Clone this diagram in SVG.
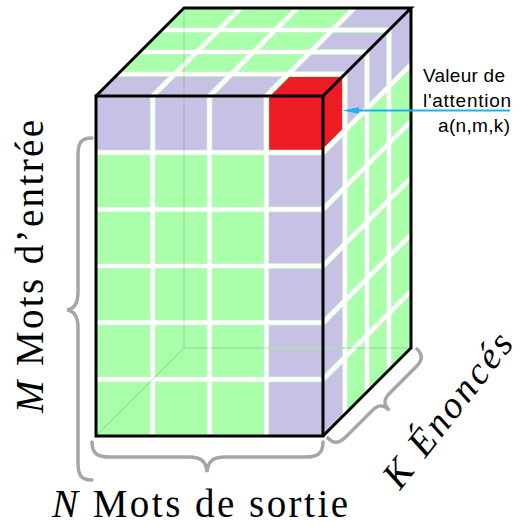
<svg xmlns="http://www.w3.org/2000/svg" width="524" height="527" viewBox="0 0 524 527">
<style>
.g{fill:#aaffaa}
.l{fill:#c7c1e6}
.r{fill:#ed1c24}
.wu{stroke:#c4f6c4;stroke-width:5.8;fill:none}
.w{stroke:#ffffff;stroke-width:4.2;fill:none}
.edge{stroke:#000;stroke-width:3;fill:none;stroke-linejoin:miter}
.hid{stroke:#4f7f4f;stroke-opacity:0.2;stroke-width:1.5;fill:none}
.brace{stroke:#a6a6a6;stroke-width:3.5;fill:none;stroke-linecap:round}
.serif{font-family:"Liberation Serif","Times New Roman",serif;fill:#000}
.sans{font-family:"Liberation Sans",Arial,sans-serif;font-size:19px;fill:#000}
</style>
<defs>
<path id="gridlines" d="M152.75,96V436M209.5,96V436M266.25,96V436M96,152.67H323M96,209.33H323M96,266H323M96,322.67H323M96,379.33H323M152.75,96L240.75,8M209.5,96L297.5,8M266.25,96L354.25,8M118,74H345M140,52H367M162,30H389M345,74V414M367,52V392M389,30V370M323,152.67L411,64.67M323,209.33L411,121.33M323,266L411,178M323,322.67L411,234.67M323,379.33L411,291.33"/>
</defs>
<g id="cube">
<g id="front-face">
<rect class="g" x="96" y="96" width="227" height="340"/>
<rect class="l" x="96" y="96" width="227" height="56.67"/>
<rect class="l" x="266.75" y="96" width="56.25" height="340"/>
<rect class="r" x="266.75" y="96" width="56.25" height="56.67"/>
</g>
<g id="top-face">
<polygon class="g" points="96,96 184,8 411,8 323,96"/>
<polygon class="l" points="96,96 323,96 345,74 118,74"/>
<polygon class="l" points="266.75,96 323,96 411,8 354.75,8"/>
<polygon class="r" points="266.75,96 323,96 345,74 288.75,74"/>
</g>
<g id="right-face">
<polygon class="g" points="323,96 411,8 411,348 323,436"/>
<polygon class="l" points="323,96 345,74 345,414 323,436"/>
<polygon class="l" points="323,96 411,8 411,64.67 323,152.67"/>
<polygon class="r" points="323,96 345,74 345,130.67 323,152.67"/>
</g>
<g id="grid">
<use href="#gridlines" class="wu"/>
<use href="#gridlines" class="w"/>
</g>
<g id="hidden-edges">
<path class="hid" d="M184,8V348H411M96,436L184,348"/>
<path d="M268,348H345" stroke="#a4eea4" stroke-width="1.5" fill="none"/>
</g>
<g id="outline">
<rect class="edge" x="96" y="96" width="227" height="340"/>
<path class="edge" d="M96,96L184,8H411L323,96M411,8V348L323,436"/>
</g>
</g>
<g id="connectors">
<line x1="510" y1="110.5" x2="356" y2="110.5" stroke="#1cb2ec" stroke-width="2"/>
<polygon points="342,110.5 359,107.3 359,113.7" fill="#1cb2ec"/>
</g>
<g id="label-attention">
<text class="sans" x="423" y="82" textLength="82">Valeur de</text>
<text class="sans" x="423" y="107" textLength="88">l'attention</text>
<text class="sans" x="438" y="132" textLength="72">a(n,m,k)</text>
</g>
<g id="brace-M">
<path class="brace" d="M92,138C80,138 78,144 78,156L78,292C78,304 74,309 67,310C74,311 78,316 78,328L78,462C78,474 80,480 92,480"/>
<text class="serif" font-size="39" transform="translate(43,413) rotate(-90)" textLength="293" lengthAdjust="spacing"><tspan font-style="italic">M</tspan> Mots d’entrée</text>
</g>
<g id="brace-N">
<path class="brace" d="M92,442C92,454 98,457 110,457L189,457C201,457 206,461 207,472C208,461 213,457 225,457L305,457C317,457 323,454 323,442"/>
<text class="serif" font-size="39" x="52" y="517" textLength="296" lengthAdjust="spacing"><tspan font-style="italic">N</tspan> Mots de sortie</text>
</g>
<g id="brace-K">
<path class="brace" transform="translate(371,392) rotate(-45)" d="M-63,2C-63,11 -59,14 -49,14L-12,14C-3,14 0,18 0,26C0,18 3,14 12,14L49,14C59,14 63,11 63,2"/>
<text class="serif" font-size="38" font-style="italic" transform="translate(400,491) rotate(-52)" textLength="186" lengthAdjust="spacing">K Énoncés</text>
</g>
</svg>
